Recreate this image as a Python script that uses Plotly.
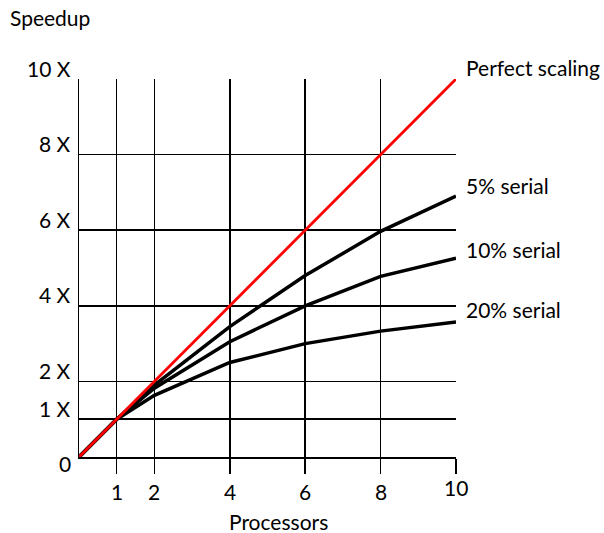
import plotly.graph_objects as go

processors = [0, 1, 2, 4, 6, 8, 10]
perfect = [0, 1, 2, 4, 6, 8, 10]
serial5 = [0, 1, 1.9, 3.45, 4.8, 5.97, 6.9]
serial10 = [0, 1, 1.82, 3.05, 4.0, 4.78, 5.26]
serial20 = [0, 1, 1.63, 2.5, 3.0, 3.33, 3.57]

x_ticks = [1, 2, 4, 6, 8, 10]
x_tick_labels = ["1", "2", "4", "6", "8", "10"]
y_ticks = [0, 1, 2, 4, 6, 8, 10]
y_tick_labels = ["0", "1 X", "2 X", "4 X", "6 X", "8 X", "10 X"]

series = [
    ("5% serial", serial5, "black", 3.5, 11),
    ("10% serial", serial10, "black", 3.5, 9),
    ("20% serial", serial20, "black", 3.5, 13),
    ("Perfect scaling", perfect, "#ff0000", 2.8, 12),
]

FONT = "Lato"
FS = 21
fig = go.Figure()
annotations = []
for name, vals, color, width, shift in series:
    fig.add_trace(go.Scatter(x=processors, y=vals, mode="lines", name=name,
                             line=dict(color=color, width=width),
                             cliponaxis=False, hoverinfo="skip"))
    annotations.append(dict(x=processors[-1], y=vals[-1], xref="x", yref="y",
                            text=name, showarrow=False, xanchor="left",
                            yanchor="middle", xshift=8, yshift=shift,
                            font=dict(family=FONT, size=FS, color="black")))

for v, t in zip(y_ticks, y_tick_labels):
    annotations.append(dict(x=0, y=v, xref="x", yref="y", text=t, showarrow=False,
                            xanchor="right", yanchor="middle", xshift=-6,
                            yshift=(-6 if v == 0 else 11),
                            font=dict(family=FONT, size=FS, color="black")))
for v, t in zip(x_ticks, x_tick_labels):
    annotations.append(dict(x=v, y=0, xref="x", yref="y", text=t, showarrow=False,
                            xanchor="center", yanchor="middle",
                            yshift=(-30 if v == 10 else -34),
                            font=dict(family=FONT, size=FS, color="black")))

annotations.append(dict(x=5, y=0, xref="x", yref="y", text="Processors", showarrow=False,
                        xanchor="center", yanchor="middle", xshift=11, yshift=-64,
                        font=dict(family=FONT, size=FS, color="black")))
annotations.append(dict(x=(50 - 79) / 377, y=1 + (79 - 17) / 378, xref="paper", yref="paper",
                        text="Speedup", showarrow=False,
                        xanchor="center", yanchor="middle",
                        font=dict(family=FONT, size=FS, color="black")))

fig.update_layout(
    width=604, height=533,
    margin=dict(l=79, r=148, t=79, b=76),
    paper_bgcolor="white", plot_bgcolor="white",
    showlegend=False,
    annotations=annotations,
    xaxis=dict(range=[0, 10], tickvals=x_ticks, showticklabels=False,
               showgrid=True, gridcolor="black", gridwidth=1.5,
               ticks="outside", ticklen=15, tickwidth=1.5, tickcolor="black",
               showline=True, linecolor="black", linewidth=1.5,
               zeroline=False, fixedrange=True),
    yaxis=dict(range=[0, 10], tickvals=y_ticks, showticklabels=False,
               showgrid=True, gridcolor="black", gridwidth=1.5,
               ticks="",
               showline=True, linecolor="black", linewidth=1.5,
               zeroline=False, fixedrange=True),
)

fig.write_html("out.html",
               config={"displayModeBar": False, "staticPlot": True},
               post_script="document.body.style.margin='0';document.body.style.overflow='hidden';")
